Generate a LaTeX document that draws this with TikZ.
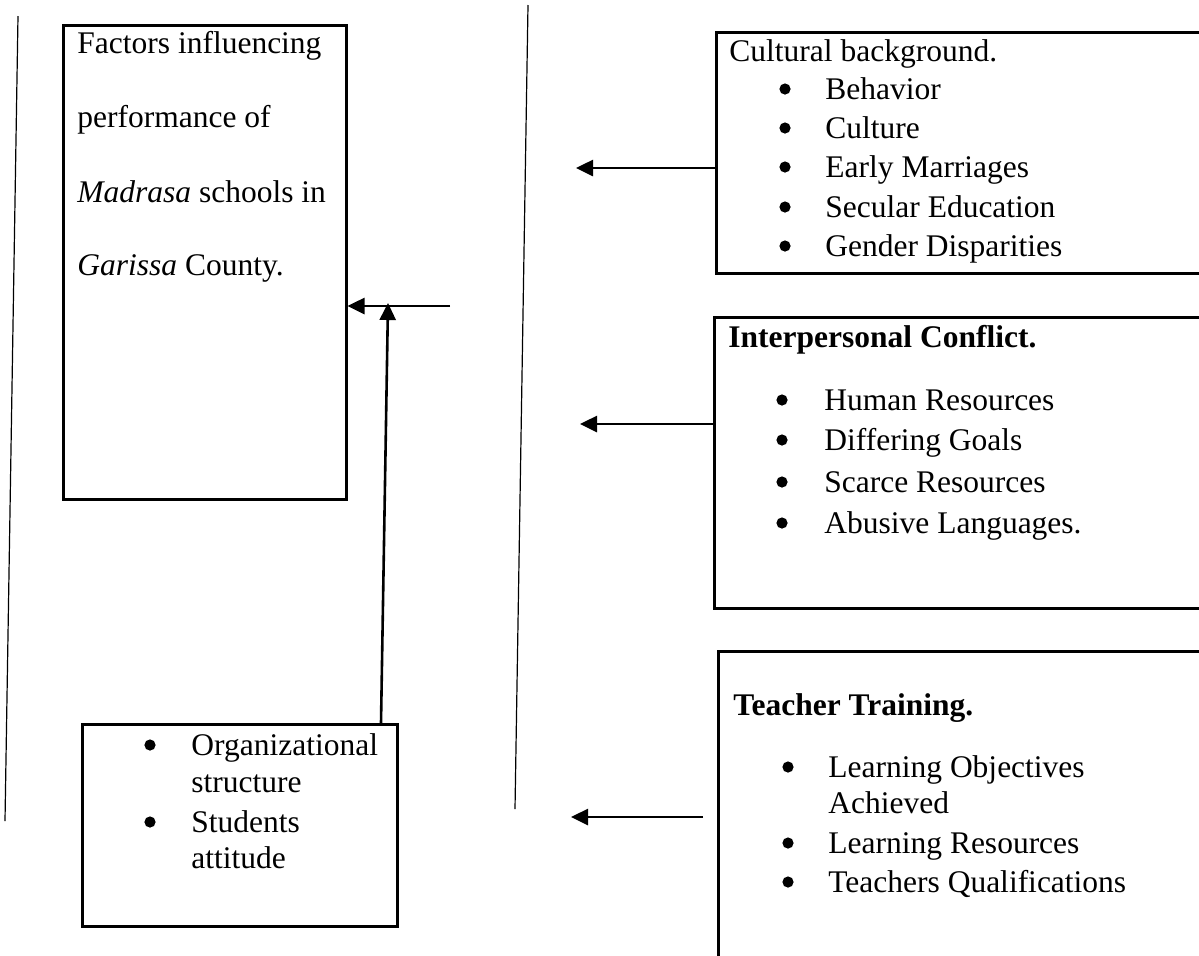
\documentclass[tikz,border=0pt]{standalone}
\usepackage{fontspec}
\setmainfont{Liberation Serif}
\usetikzlibrary{arrows.meta}
\begin{document}
\begin{tikzpicture}[x=0.5pt,y=-0.5pt,
  box/.style={draw, line width=1.25pt, anchor=north west, inner sep=0pt},
  rule/.style={line width=0.6pt},
  arr/.style={line width=1.3pt, -{Triangle[length=8.5pt,width=8pt]}},
  txt/.style={anchor=base west, inner sep=0pt, font=\fontsize{15.75}{19}\selectfont},
  dot/.style={circle, fill, inner sep=0pt, minimum size=5.6pt, yshift=5pt},
]
\useasboundingbox (0,0) rectangle (1199,955);
\clip (0,0) rectangle (1199,955);

% vertical divider lines
\draw[rule] (18,16) -- (5,821);
\draw[rule] (528,5) -- (515,809);

% boxes
\node[box, minimum width=141.5pt, minimum height=237pt] (main) at (62,24) {};
\node[box, minimum width=157.5pt, minimum height=101pt] (org) at (81,723) {};
\node[box, minimum width=250pt, minimum height=120.5pt] (cult) at (715,31) {};
\node[box, minimum width=250pt, minimum height=145.5pt] (icb) at (713,316) {};
\node[box, minimum width=250pt, minimum height=165pt] (ttb) at (717,650) {};

% main box text
\node[txt] (m1) at (77,53) {Factors influencing};
\node[txt] (m2) at (77,127) {performance of};
\node[txt] (m3) at (77,202) {\textit{Madrasa} schools in};
\node[txt] (m4) at (77,275) {\textit{Garissa} County.};

% organisation box
\node[dot] (ob1) at (150,755) {};
\node[txt] (o1) at (191,755) {Organizational};
\node[txt] (o2) at (191,792) {structure};
\node[dot] (ob2) at (150,832) {};
\node[txt] (o3) at (191,832) {Students};
\node[txt] (o4) at (191,868) {attitude};

% cultural background
\node[txt] (c0) at (729,61) {Cultural background.};
\foreach \y/\t [count=\i] in {99/Behavior,138/Culture,177/Early Marriages,217/Secular Education,256/Gender Disparities}{
  \node[dot] (cb\i) at (785,\y) {};
  \node[txt] (c\i) at (825,\y) {\t};
}

% interpersonal conflict
\node[txt] (i0) at (728,347) {\textbf{Interpersonal Conflict.}};
\foreach \y/\t [count=\i] in {410/Human Resources,450/Differing Goals,492/Scarce Resources,533/Abusive Languages.}{
  \node[dot] (ib\i) at (782,\y) {};
  \node[txt] (i\i) at (824,\y) {\t};
}

% teacher training
\node[txt] (t0) at (733,715) {\textbf{Teacher Training.}};
\node[dot] (tb1) at (788,777) {};
\node[txt] (t1) at (828,777) {Learning Objectives};
\node[txt] (t1b) at (828,813) {Achieved};
\node[dot] (tb2) at (788,853) {};
\node[txt] (t2) at (828,853) {Learning Resources};
\node[dot] (tb3) at (788,892) {};
\node[txt] (t3) at (828,892) {Teachers Qualifications};

% connectors
\coordinate (ca) at (576,168);
\draw[arr] (cult.west |- ca) -- (ca);
\coordinate (ia) at (580,424);
\draw[arr] (icb.west |- ia) -- (ia);
\coordinate (ttail) at (703,817);
\coordinate (ttip) at (571,817);
\draw[arr] (ttail) -- (ttip);
\coordinate (mtail) at (450,306);
\draw[arr] (mtail) -- (main.east |- mtail);
\coordinate (vbase) at (381,723);
\coordinate (vtip) at (388,303);
\draw[arr] (vbase) -- (vtip);
\end{tikzpicture}
\end{document}
